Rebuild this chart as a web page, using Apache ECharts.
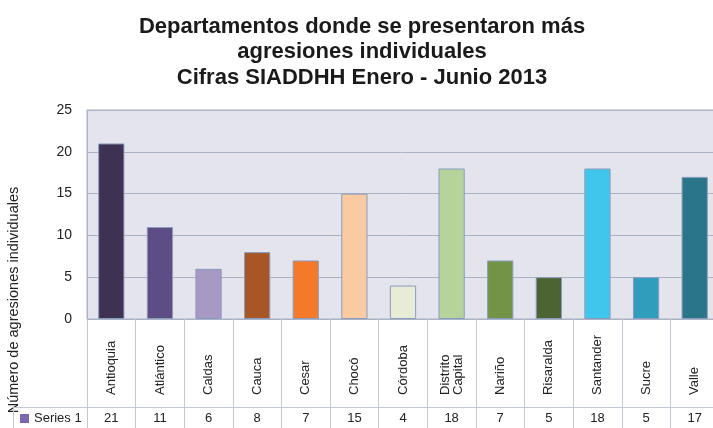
<!DOCTYPE html>
<html>
<head>
<meta charset="utf-8">
<script src="https://cdn.jsdelivr.net/npm/echarts@6/dist/echarts.min.js"></script>
<style>
  html, body { margin: 0; padding: 0; background: #fff; }
  #chart { width: 713px; height: 428px; }
</style>
</head>
<body>
<div id="chart"></div>
<script>
// departamentos y número de agresiones
const categories = ['Antioquia', 'Atlántico', 'Caldas', 'Cauca', 'Cesar', 'Chocó', 'Córdoba',
  'Distrito\nCapital', 'Nariño', 'Risaralda', 'Santander', 'Sucre', 'Valle']
const values = [21, 11, 6, 8, 7, 15, 4, 18, 7, 5, 18, 5, 17]
const barColors = ['#3f3152', '#5e4d84', '#a898c4', '#a85626', '#f47a2a', '#facaa2', '#e6ecd6',
  '#b5d39a', '#739446', '#4b6432', '#40c6ec', '#309dbc', '#2b7589']
const seriesName = 'Series 1'
const yTicks = [0, 5, 10, 15, 20, 25]

const font = 'Liberation Sans, Arial, sans-serif'
const lineColor = '#aab3c5'
const cellColor = '#c2c8d4'

const chart = echarts.init(document.getElementById('chart'))

chart.setOption({
  backgroundColor: '#fff',
  animation: false,
  title: {
    text: 'Departamentos donde se presentaron más\nagresiones individuales\nCifras SIADDHH Enero - Junio 2013',
    left: 357,
    top: 9,
    textAlign: 'center',
    textStyle: {
      fontFamily: font,
      fontSize: 22,
      fontWeight: 'bold',
      lineHeight: 25.5,
      color: '#1a1a1a'
    }
  },
  legend: {
    left: 20,
    top: 412,
    padding: 0,
    icon: 'rect',
    itemWidth: 9,
    itemHeight: 9,
    itemGap: 4,
    selectedMode: false,
    itemStyle: { borderWidth: 0 },
    textStyle: { fontFamily: font, fontSize: 13, color: '#222' },
    data: [seriesName]
  },
  grid: {
    left: 87,
    top: 110,
    width: 632,
    height: 209,
    outerBoundsMode: 'none',
    show: true,
    backgroundColor: '#e4e4ec',
    borderColor: lineColor,
    borderWidth: 1
  },
  xAxis: [
    {
      type: 'category',
      data: categories,
      axisLine: { show: true, lineStyle: { color: lineColor } },
      axisTick: {
        show: true,
        interval: 0,
        alignWithLabel: false,
        length: 109,
        lineStyle: { color: cellColor }
      },
      axisLabel: {
        interval: 0,
        rotate: 90,
        align: 'left',
        margin: 76,
        fontFamily: font,
        fontSize: 13,
        lineHeight: 13,
        color: '#222'
      }
    },
    {
      type: 'category',
      position: 'bottom',
      offset: 88,
      data: values.map(v => String(v)),
      axisLine: { show: true, lineStyle: { color: cellColor } },
      axisTick: { show: false },
      axisLabel: {
        interval: 0,
        margin: 5,
        fontFamily: font,
        fontSize: 13,
        color: '#222'
      }
    }
  ],
  yAxis: {
    type: 'value',
    min: 0,
    max: 25,
    interval: 5,
    axisLine: { show: true, lineStyle: { color: lineColor } },
    axisTick: { show: false },
    splitLine: { show: true, lineStyle: { color: lineColor } },
    axisLabel: {
      margin: 15,
      fontFamily: font,
      fontSize: 14,
      color: '#222',
      formatter: v => (yTicks.includes(v) ? String(v) : '')
    }
  },
  graphic: [
    {
      type: 'text',
      x: 14,
      y: 300,
      rotation: Math.PI / 2,
      style: {
        text: 'Número de agresiones individuales',
        fontFamily: font,
        fontSize: 14.5,
        fill: '#222',
        align: 'center',
        verticalAlign: 'middle'
      }
    },
    {
      type: 'line',
      shape: { x1: 13, y1: 407.5, x2: 87, y2: 407.5 },
      style: { stroke: cellColor, lineWidth: 1 }
    },
    {
      type: 'line',
      shape: { x1: 13.5, y1: 407, x2: 13.5, y2: 428 },
      style: { stroke: cellColor, lineWidth: 1 }
    }
  ],
  series: [
    {
      name: seriesName,
      type: 'bar',
      xAxisIndex: 0,
      barWidth: '54%',
      itemStyle: {
        color: '#7b67ad',
        borderColor: '#8a9cc0',
        borderWidth: 1
      },
      data: values.map((v, i) => ({
        value: v,
        itemStyle: { color: barColors[i] }
      }))
    }
  ]
})
</script>
</body>
</html>
